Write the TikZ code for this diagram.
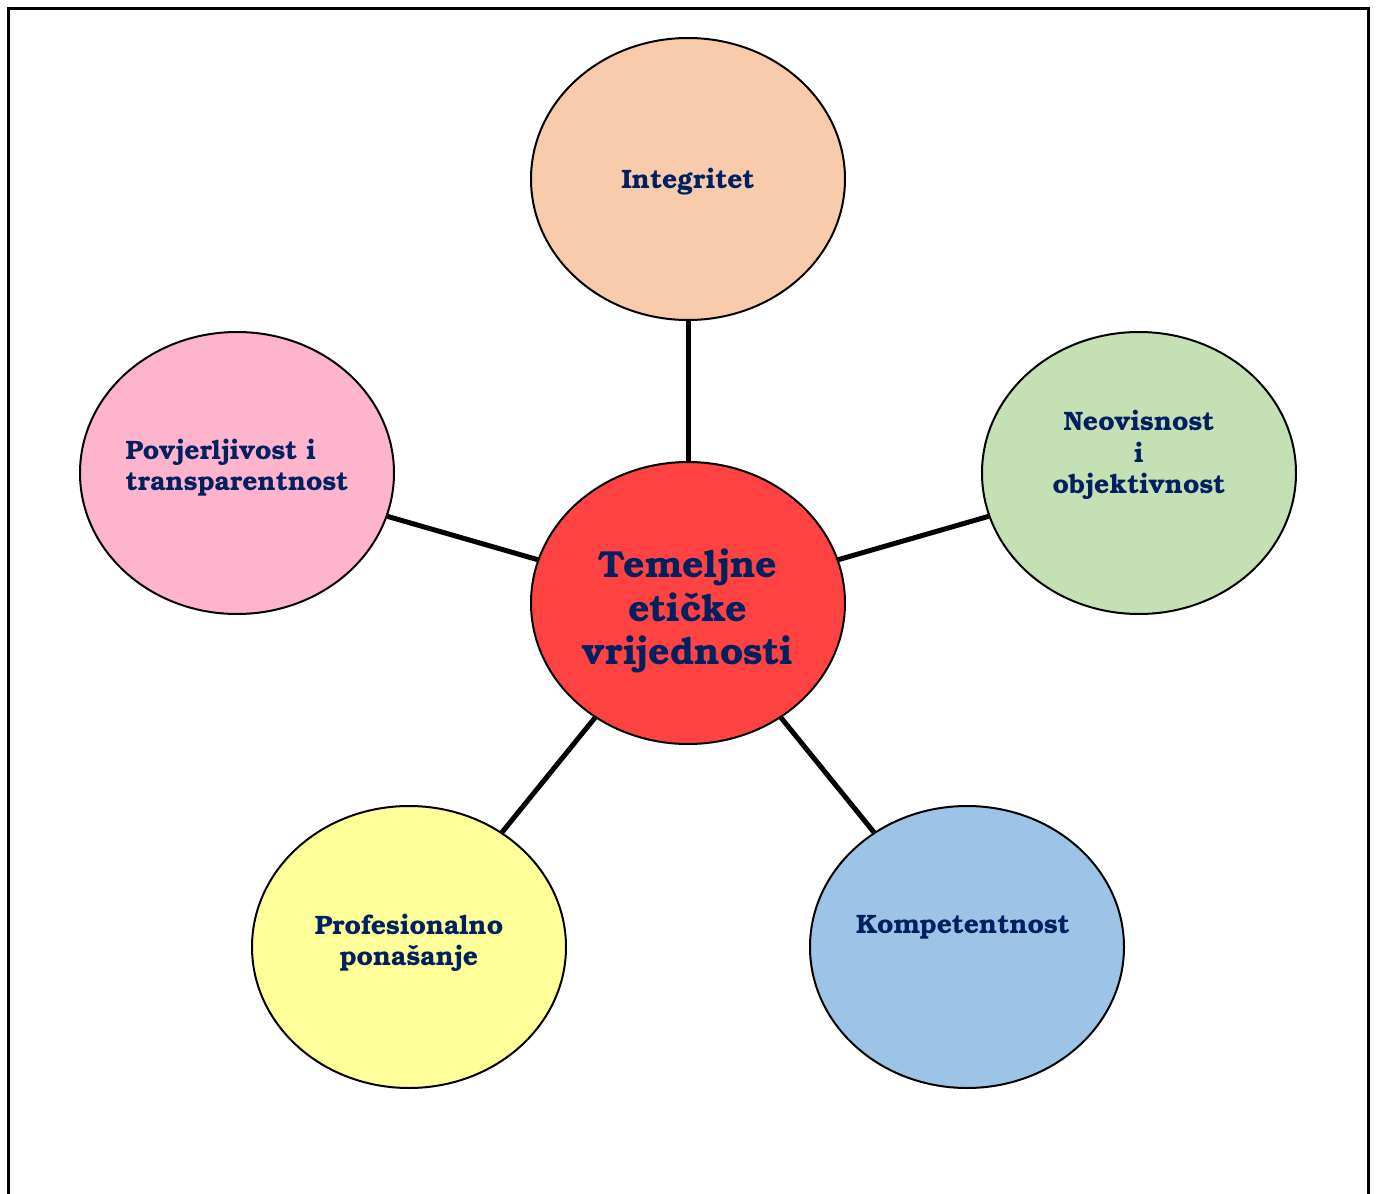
\documentclass[tikz,border=0pt]{standalone}
\usepackage{xcolor}
\usepackage{fontspec}
\setmainfont{texgyrebonum}[Extension=.otf,UprightFont=*-regular,BoldFont=*-bold]
\usepackage{tikz}
\usetikzlibrary{shapes.geometric}

\definecolor{navytext}{RGB}{0,32,96}
\definecolor{redcore}{RGB}{255,67,67}
\definecolor{peach}{RGB}{248,203,173}
\definecolor{lightgreen}{RGB}{197,224,180}
\definecolor{lightpink}{RGB}{255,180,206}
\definecolor{lightyellow}{RGB}{255,255,153}
\definecolor{lightblue}{RGB}{157,195,230}

\tikzset{
  value/.style={ellipse,draw=black,line width=1pt,minimum width=157pt,minimum height=141pt,inner sep=0pt},
  valuetext/.style={inner sep=0.75pt,align=center,text=navytext,font=\fontsize{13.3}{15.6}\selectfont\bfseries},
  spoke/.style={line width=2.5pt}
}

\begin{document}
\begin{tikzpicture}[x=0.5pt,y=0.5pt,yscale=-1,xscale=1]
\useasboundingbox (0,0) rectangle (1378,1194);

%Frame
\draw [line width=1.5pt] (8,1194) -- (8,8) -- (1368,8) -- (1368,1194);

%Shape: Ellipse [core]
\node [value,fill=redcore] (core) at (688,603) {};
%Shape: Ellipse [integritet]
\node [value,fill=peach] (integ) at (688,179) {};
%Shape: Ellipse [neovisnost]
\node [value,fill=lightgreen] (neov) at (1139,473) {};
%Shape: Ellipse [povjerljivost]
\node [value,fill=lightpink] (povj) at (237,473) {};
%Shape: Ellipse [profesionalno]
\node [value,fill=lightyellow] (prof) at (409,947) {};
%Shape: Ellipse [kompetentnost]
\node [value,fill=lightblue] (komp) at (967,947) {};

%Straight Lines
\draw [spoke] (core) -- (integ);
\draw [spoke] (core) -- (neov);
\draw [spoke] (core) -- (povj);
\draw [spoke] (core) -- (prof);
\draw [spoke] (core) -- (komp);

% Text Node
\node [valuetext,font=\fontsize{18.8}{21.8}\selectfont\bfseries] (core-t) at (688,611) {Temeljne\\etičke\\vrijednosti};
% Text Node
\node [valuetext] (integ-t) at (688,182) {Integritet};
% Text Node
\node [valuetext] (neov-t) at (1139,455) {Neovisnost\\i\\objektivnost};
% Text Node
\node [valuetext,align=left] (povj-t) at (237,468) {Povjerljivost i\\transparentnost};
% Text Node
\node [valuetext] (prof-t) at (409,943) {Profesionalno\\ponašanje};
% Text Node
\node [valuetext] (komp-t) at (963,927) {Kompetentnost};

\end{tikzpicture}
\end{document}
